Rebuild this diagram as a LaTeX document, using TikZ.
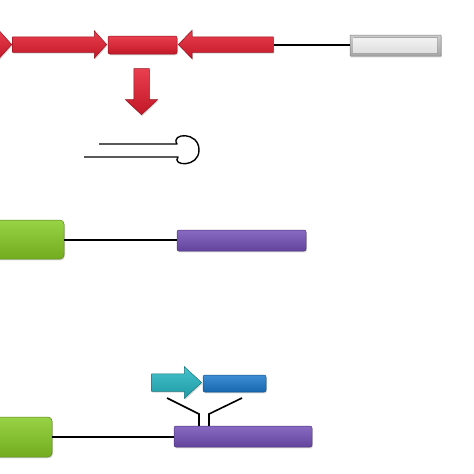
\documentclass[tikz,border=0pt]{standalone}
\usetikzlibrary{shapes.arrows,shadows}
\definecolor{gred}{RGB}{228,28,46}
\definecolor{ggray}{RGB}{196,196,196}
\definecolor{ggreen}{RGB}{134,202,36}
\definecolor{gpurple}{RGB}{116,80,184}
\definecolor{gcyan}{RGB}{36,182,194}
\definecolor{gblue}{RGB}{26,122,204}
\tikzset{
  glossy/.style={top color=#1!85!white, bottom color=#1!85!black, draw=#1!65!black, line width=0.5pt,
     drop shadow={opacity=0.3, shadow xshift=0.8pt, shadow yshift=-1.4pt}},
  gbox/.style={rectangle, rounded corners=2pt, inner sep=0pt, glossy=#1},
  garrow/.style={single arrow, inner xsep=0pt, single arrow head indent=0pt, anchor=tip, glossy=#1},
  vgarrow/.style={single arrow, inner ysep=0pt, single arrow head indent=0pt, anchor=tip, glossy=#1},
  bevel/.style={path picture={\fill[top color=gray!8, bottom color=gray!28]
     ([shift={(3.5pt,-2.5pt)}]path picture bounding box.north west) rectangle
     ([shift={(-3.5pt,2.5pt)}]path picture bounding box.south east);}},
  wire/.style={line width=2pt, black},
  thin wire/.style={line width=1.4pt, black},
}
\begin{document}
\begin{tikzpicture}[x=1pt,y=-1pt]
\useasboundingbox (0,0) rectangle (474,474);
\clip (0,0) rectangle (474,474);
% top row
\node[garrow=gred, minimum height=80pt, inner ysep=7.5pt, single arrow head extend=6pt, single arrow tip angle=96] (r0) at (12,44.5) {};
\node[garrow=gred, minimum height=94pt, inner ysep=7.5pt, single arrow head extend=6pt, single arrow tip angle=96] (r1) at (107,44.5) {};
\node[gbox=gred, minimum width=69pt, minimum height=18pt] (r2) at (142.5,45) {};
\node[garrow=gred, shape border rotate=180, minimum height=95pt, inner ysep=7.5pt, single arrow head extend=6.5pt, single arrow tip angle=92] (r3) at (178,44.5) {};
\node[gbox=ggray, rounded corners=0.5pt, bevel, minimum width=91pt, minimum height=21pt] (g0) at (395.5,45.5) {};
\draw[wire] (r3.tail) -- (r3.tail -| g0.west);
% down arrow
\node[vgarrow=gred, shape border rotate=270, minimum height=46pt, inner xsep=7.5pt, single arrow head extend=8.5pt, single arrow tip angle=94] (dn) at (141.5,115) {};
% hairpin
\coordinate (h1) at (99,144);
\coordinate (h2) at (177,144);
\coordinate (h3) at (178,157);
\coordinate (h4) at (84,157);
\draw[thin wire, line join=round] (h1) -- (h2) .. controls (170,133) and (199,131) .. (199,150) .. controls (199,168) and (171,166) .. (h3) -- (h4);
% middle row
\node[gbox=ggreen, rounded corners=4pt, minimum width=74pt, minimum height=39pt] (gr1) at (27,239.5) {};
\node[gbox=gpurple, minimum width=129pt, minimum height=21pt] (pu1) at (241.5,240.5) {};
\draw[wire] (gr1.east) -- (gr1.east -| pu1.west);
% bottom row
\node[gbox=ggreen, rounded corners=4pt, minimum width=62pt, minimum height=40pt] (gr2) at (21,437) {};
\node[gbox=gpurple, minimum width=138pt, minimum height=21pt] (pu2) at (243,436.5) {};
\draw[wire] (gr2.east) -- (gr2.east -| pu2.west);
\node[garrow=gcyan, minimum height=50pt, inner ysep=8.5pt, single arrow head extend=7pt, single arrow tip angle=85] (cy) at (202,382.5) {};
\node[gbox=gblue, minimum width=63pt, minimum height=17pt] (bl) at (234.5,383.5) {};
\coordinate (la) at (167,398);
\coordinate (lb) at (199,414);
\coordinate (ra) at (242,398);
\coordinate (rb) at (209,414);
\draw[wire, line width=1.6pt] (la) -- (lb) -- (lb |- pu2.north);
\draw[wire, line width=1.6pt] (ra) -- (rb) -- (rb |- pu2.north);
\end{tikzpicture}
\end{document}
